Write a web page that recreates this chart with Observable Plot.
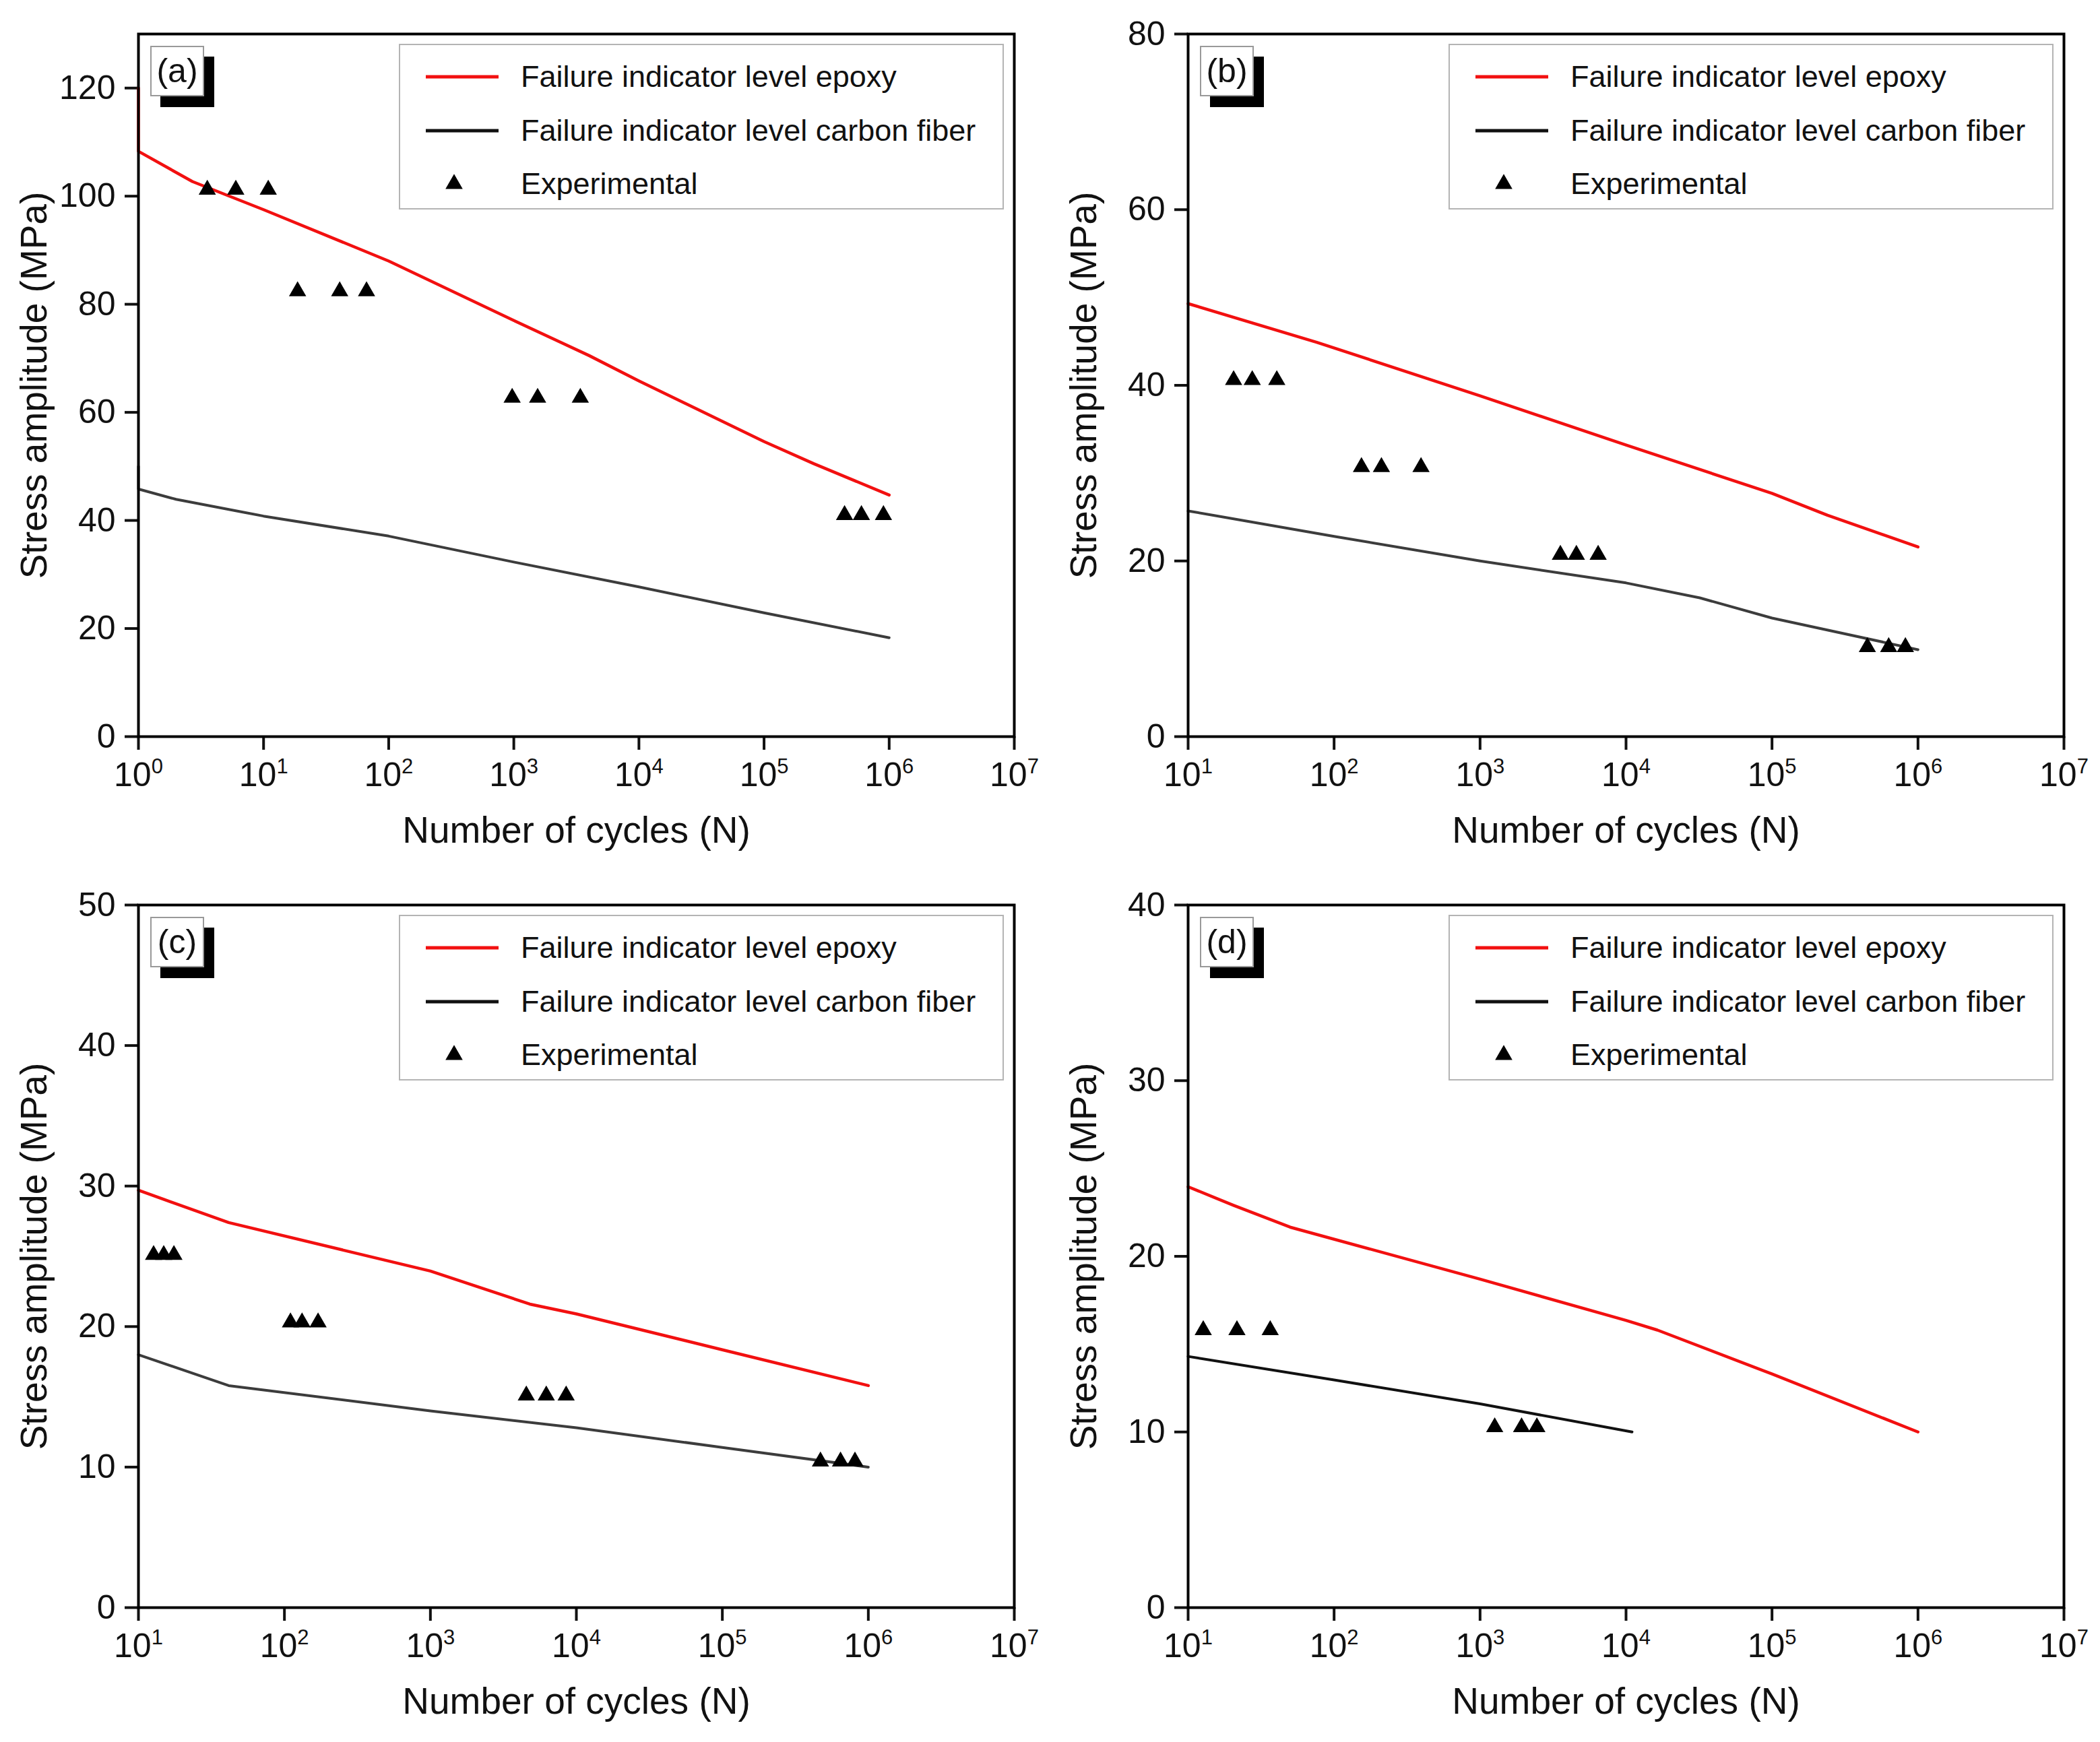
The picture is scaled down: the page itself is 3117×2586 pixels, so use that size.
<!DOCTYPE html>
<html>
<head>
<meta charset="utf-8">
<script src="https://cdn.jsdelivr.net/npm/d3@7"></script>
<script src="https://cdn.jsdelivr.net/npm/@observablehq/plot@0.6"></script>
<style>
  body { margin: 0; background: #fff; }
  #wrap { position: relative; width: 3117px; height: 2586px; background: #fff; font-family: "Liberation Sans", Arial, sans-serif; }
  .panel { position: absolute; width: 1558px; height: 1293px; }
  .panel svg { position: absolute; left: 0; top: 0; }
  .legend { position: absolute; left: 592px; top: 65px; width: 898px; height: 246px; border: 2px solid #b4b4b4; box-sizing: border-box; background: #fff; }
  .legrow { position: absolute; left: 0; height: 60px; width: 100%; }
  .legrow svg { position: absolute; left: 36px; top: 0; }
  .legrow span { position: absolute; left: 179px; top: 5px; font-size: 45px; line-height: 50px; color: #111; white-space: nowrap; }
  .tag { position: absolute; left: 223px; top: 68px; width: 80px; height: 75px; }
  .tag .shadow { position: absolute; left: 15px; top: 16px; width: 80px; height: 75px; background: #000; }
  .tag .box { position: absolute; left: 0; top: 0; width: 80px; height: 75px; background: #fff; border: 2px solid #999; box-sizing: border-box; font-size: 50px; line-height: 70px; text-align: center; color: #111; }
</style>
</head>
<body>
<div id="wrap"></div>
<script>
// ---------- Data ----------
// Panel (a)
const aEpoxyN  = [1, 1, 2.7, 10, 100, 1000, 4000, 10000, 100000, 250000, 1e6];
const aEpoxyS  = [120, 108.3, 102.7, 97.5, 88, 77, 70.5, 65.8, 54.6, 50.5, 44.7];
const aCarbonN = [1, 1, 2, 10, 100, 1000, 10000, 100000, 1e6];
const aCarbonS = [50, 45.8, 43.9, 40.8, 37.1, 32.3, 27.7, 22.9, 18.3];
const aExpN    = [3.55, 6.0, 10.9, 18.7, 40.6, 66.5, 970, 1550, 3400, 440000, 600000, 900000];
const aExpS    = [101.2, 101.2, 101.2, 82.4, 82.4, 82.4, 62.7, 62.7, 62.7, 41.0, 41.0, 41.0];
// Panel (b)
const bEpoxyN  = [10, 76, 1000, 10000, 100000, 240000, 1e6];
const bEpoxyS  = [49.3, 44.9, 38.8, 33.2, 27.7, 25.2, 21.6];
const bCarbonN = [10, 100, 1000, 10000, 32000, 100000, 1e6];
const bCarbonS = [25.7, 22.8, 20.0, 17.5, 15.8, 13.5, 9.9];
const bExpN    = [20.5, 27.5, 40.5, 154, 211, 394, 3550, 4570, 6440, 450000, 630000, 820000];
const bExpS    = [40.6, 40.6, 40.6, 30.7, 30.7, 30.7, 20.7, 20.7, 20.7, 10.2, 10.2, 10.2];
// Panel (c)
const cEpoxyN  = [10, 41.5, 1000, 4800, 10000, 100000, 1e6];
const cEpoxyS  = [29.7, 27.4, 23.95, 21.6, 20.9, 18.35, 15.8];
const cCarbonN = [10, 41.5, 1000, 10000, 100000, 1e6];
const cCarbonS = [18.0, 15.8, 14.0, 12.8, 11.4, 10.0];
const cExpN    = [12.7, 14.9, 17.5, 110, 132, 170, 4540, 6220, 8510, 470000, 645000, 810000];
const cExpS    = [25.1, 25.1, 25.1, 20.3, 20.3, 20.3, 15.1, 15.1, 15.1, 10.4, 10.4, 10.4];
// Panel (d)
const dEpoxyN  = [10, 20.5, 50, 1000, 10000, 16400, 100000, 1e6];
const dEpoxyS  = [23.96, 22.9, 21.66, 18.7, 16.35, 15.8, 13.3, 10.0];
const dCarbonN = [10, 100, 1000, 11000];
const dCarbonS = [14.3, 12.96, 11.6, 10.0];
const dExpN    = [12.7, 21.6, 36.5, 1260, 1925, 2450];
const dExpS    = [15.8, 15.8, 15.8, 10.27, 10.27, 10.27];

// Axes / tick labels
const xTicksA = [1, 10, 100, 1000, 10000, 100000, 1e6, 1e7];
const xTicksB = [10, 100, 1000, 10000, 100000, 1e6, 1e7];
const yTicksA = [0, 20, 40, 60, 80, 100, 120];
const yTicksB = [0, 20, 40, 60, 80];
const yTicksC = [0, 10, 20, 30, 40, 50];
const yTicksD = [0, 10, 20, 30, 40];
const panelTags = ["(a)", "(b)", "(c)", "(d)"];
const legendLabels = ["Failure indicator level epoxy", "Failure indicator level carbon fiber", "Experimental"];
const xTitle = "Number of cycles (N)";
const yTitle = "Stress amplitude (MPa)";

const zip = (xs, ys) => xs.map((x, i) => ({N: x, S: ys[i]}));

const panels = [
  {tag: panelTags[0], left: 0,    top: 0,    xDomain: [1, 1e7],  xTicks: xTicksA, yDomain: [0, 130], yTicks: yTicksA,
   epoxy: zip(aEpoxyN, aEpoxyS), carbon: zip(aCarbonN, aCarbonS), exp: zip(aExpN, aExpS), carbonColor: "#3c3c3c"},
  {tag: panelTags[1], left: 1558, top: 0,    xDomain: [10, 1e7], xTicks: xTicksB, yDomain: [0, 80],  yTicks: yTicksB,
   epoxy: zip(bEpoxyN, bEpoxyS), carbon: zip(bCarbonN, bCarbonS), exp: zip(bExpN, bExpS), carbonColor: "#3c3c3c"},
  {tag: panelTags[2], left: 0,    top: 1293, xDomain: [10, 1e7], xTicks: xTicksB, yDomain: [0, 50],  yTicks: yTicksC,
   epoxy: zip(cEpoxyN, cEpoxyS), carbon: zip(cCarbonN, cCarbonS), exp: zip(cExpN, cExpS), carbonColor: "#3c3c3c"},
  {tag: panelTags[3], left: 1558, top: 1293, xDomain: [10, 1e7], xTicks: xTicksB, yDomain: [0, 40],  yTicks: yTicksD,
   epoxy: zip(dEpoxyN, dEpoxyS), carbon: zip(dCarbonN, dCarbonS), exp: zip(dExpN, dExpS), carbonColor: "#111111"}
];

const wrap = document.getElementById("wrap");

for (const p of panels) {
  const div = document.createElement("div");
  div.className = "panel";
  div.style.left = p.left + "px";
  div.style.top = p.top + "px";
  wrap.appendChild(div);

  const chart = Plot.plot({
    width: 1558,
    height: 1293,
    marginLeft: 205,
    marginRight: 53,
    marginTop: 50,
    marginBottom: 200,
    style: {fontFamily: "Liberation Sans, Arial, sans-serif", fontSize: "50px", color: "#111", background: "#fff"},
    x: {type: "log", domain: p.xDomain},
    y: {domain: p.yDomain},
    marks: [
      Plot.axisX({ticks: p.xTicks, tickSize: 20, tickPadding: 18, strokeWidth: 4,
        tickFormat: d => "10^" + Math.round(Math.log10(d)),
        label: xTitle, labelAnchor: "center", labelOffset: 157, labelArrow: "none"}),
      Plot.axisY({ticks: p.yTicks, tickSize: 20, tickPadding: 14, strokeWidth: 4,
        label: yTitle, labelAnchor: "center", labelOffset: 176, labelArrow: "none"}),
      Plot.line(p.carbon, {x: "N", y: "S", stroke: p.carbonColor, strokeWidth: 4}),
      Plot.line(p.epoxy, {x: "N", y: "S", stroke: "#f21010", strokeWidth: 4.5}),
      Plot.dot(p.exp, {x: "N", y: "S", symbol: "triangle", r: 9.5, fill: "#000", stroke: "none"}),
      Plot.frame({stroke: "#000", strokeWidth: 4})
    ]
  });
  div.appendChild(chart);

  // superscript exponents on x tick labels
  d3.select(chart).selectAll('g[aria-label="x-axis tick label"] text').each(function() {
    const t = this.textContent;
    const m = t.match(/^10\^(-?\d+)$/);
    if (!m) return;
    const sel = d3.select(this);
    sel.text(null);
    sel.append("tspan").text("10");
    sel.append("tspan").attr("dy", "-0.62em").attr("font-size", "0.62em").text(m[1]);
  });
  d3.select(chart).selectAll('g[aria-label="x-axis label"] text, g[aria-label="y-axis label"] text')
    .attr("font-size", "55px")
    .each(function() { this.textContent = this.textContent.replace(/\s*[↑→←↓]\s*/g, ""); });

  // legend
  const leg = document.createElement("div");
  leg.className = "legend";
  const rowsTop = [17, 97, 176];
  legendLabels.forEach((lab, i) => {
    const row = document.createElement("div");
    row.className = "legrow";
    row.style.top = rowsTop[i] + "px";
    let sw;
    if (i === 0) sw = '<svg width="120" height="60"><line x1="2" x2="110" y1="30" y2="30" stroke="#f21010" stroke-width="5"/></svg>';
    else if (i === 1) sw = '<svg width="120" height="60"><line x1="2" x2="110" y1="30" y2="30" stroke="#111" stroke-width="5"/></svg>';
    else sw = '<svg width="120" height="60"><path d="' + d3.symbol(d3.symbolTriangle, Math.PI * 9.5 * 9.5)() + '" transform="translate(44,30)" fill="#000"/></svg>';
    row.innerHTML = sw + '<span>' + lab + '</span>';
    leg.appendChild(row);
  });
  div.appendChild(leg);

  // panel tag
  const tag = document.createElement("div");
  tag.className = "tag";
  tag.innerHTML = '<div class="shadow"></div><div class="box">' + p.tag + '</div>';
  div.appendChild(tag);
}
</script>
</body>
</html>
